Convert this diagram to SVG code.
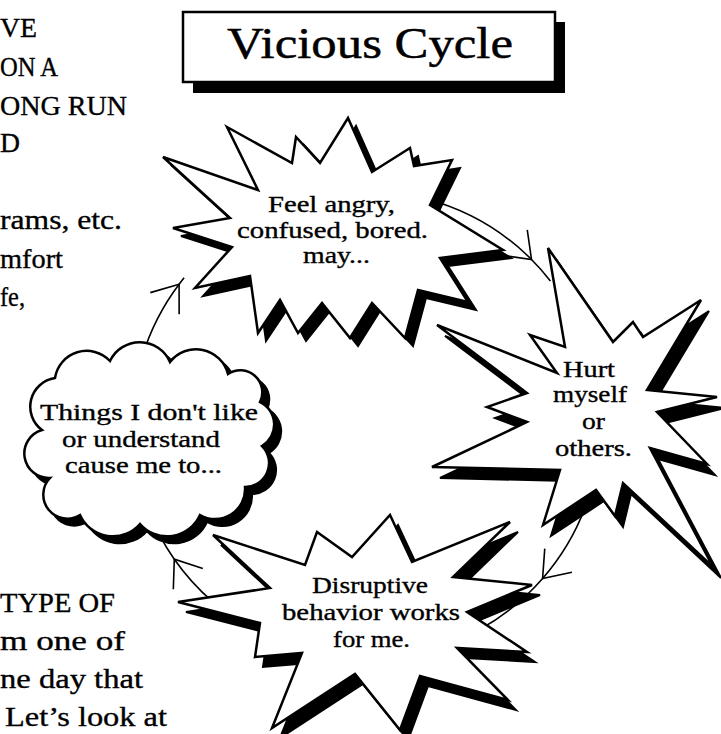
<svg xmlns="http://www.w3.org/2000/svg" width="721" height="734" viewBox="0 0 721 734">
<style>
text{font-family:"Liberation Serif","Times New Roman",serif;fill:#000;stroke:#000;stroke-width:0.35}
.page{font-size:28px}
.lbl{font-size:23px}
.title{font-size:45px;stroke-width:0.5}
.shadow{fill:#000;stroke:#000;stroke-width:2}
.shape{fill:#fff;stroke:#000;stroke-width:2.5;stroke-linejoin:miter}
.conn{fill:none;stroke:#000;stroke-width:1.6}
</style>
<defs>
<marker id="arr" markerUnits="userSpaceOnUse" markerWidth="60" markerHeight="60" viewBox="-30 -30 60 60" refX="0" refY="0" orient="auto" overflow="visible">
<path d="M-24,-18 L0,0 L-24,18" fill="none" stroke="#000" stroke-width="1.6"/>
</marker>
</defs>
<rect width="721" height="734" fill="#fff"/>

<g id="page-text" class="page">
<text x="0" y="37" textLength="37" lengthAdjust="spacingAndGlyphs">VE</text>
<text x="0" y="76" textLength="58" lengthAdjust="spacingAndGlyphs">ON A</text>
<text x="0" y="115" textLength="127" lengthAdjust="spacingAndGlyphs">ONG RUN</text>
<text x="0" y="152" textLength="20" lengthAdjust="spacingAndGlyphs">D</text>
<text x="0" y="229" textLength="122" lengthAdjust="spacingAndGlyphs">rams, etc.</text>
<text x="0" y="268" textLength="63" lengthAdjust="spacingAndGlyphs">mfort</text>
<text x="0" y="306" textLength="25" lengthAdjust="spacingAndGlyphs">fe,</text>
<text x="0" y="612" textLength="115" lengthAdjust="spacingAndGlyphs">TYPE OF</text>
<text x="0" y="650" textLength="125" lengthAdjust="spacingAndGlyphs">m one of</text>
<text x="0" y="688" textLength="143" lengthAdjust="spacingAndGlyphs">ne day that</text>
<text x="5" y="726" textLength="162" lengthAdjust="spacingAndGlyphs">Let’s look at</text>
</g>

<g id="title">
<rect x="193" y="22" width="372" height="71" fill="#000"/>
<rect x="183" y="12" width="372" height="70" fill="#fff" stroke="#000" stroke-width="2.5"/>
<text class="title" x="227" y="58" textLength="286" lengthAdjust="spacingAndGlyphs">Vicious Cycle</text>
</g>

<g id="connectors">
<path class="conn" marker-mid="url(#arr)" d="M142.2,356.6 A234,234 0 0 1 179.1,284.2 A234,234 0 0 1 184.1,277.7"/>
<path class="conn" marker-mid="url(#arr)" d="M426.6,199 A234,234 0 0 1 531.5,259.5 A234,234 0 0 1 550.4,280.9"/>
<path class="conn" marker-mid="url(#arr)" d="M594.9,473.7 A234,234 0 0 1 542.6,578.5 A234,234 0 0 1 479.4,629.7"/>
<path class="conn" marker-mid="url(#arr)" d="M212.5,601.6 A234,234 0 0 1 174.3,559.2 A234,234 0 0 1 159.4,534.9"/>
</g>

<g id="node-feel">
<polygon class="shadow" transform="translate(8,8)" points="227,127 292,163 296,137 320,163 348,118 372,172 410,148 414,166 452,160 430,205 503,250 440,258 468,302 418,290 405,338 372,303 350,338 322,303 298,333 280,300 258,333 250,276 195,288 232,247 173,228 230,218 163,157 258,190"/>
<polygon class="shape" points="227,127 292,163 296,137 320,163 348,118 372,172 410,148 414,166 452,160 430,205 503,250 440,258 468,302 418,290 405,338 372,303 350,338 322,303 298,333 280,300 258,333 250,276 195,288 232,247 173,228 230,218 163,157 258,190"/>
<text class="lbl" x="268" y="212" textLength="127" lengthAdjust="spacingAndGlyphs">Feel angry,</text>
<text class="lbl" x="237" y="238" textLength="191" lengthAdjust="spacingAndGlyphs">confused, bored.</text>
<text class="lbl" x="303" y="263" textLength="67" lengthAdjust="spacingAndGlyphs">may...</text>
</g>

<g id="node-hurt">
<polygon class="shadow" transform="translate(8,11)" points="548,248 613,342 633,322 643,337 701,300 647,390 717,397 657,412 707,464 650,448 713,567 623,483 615,516 596,490 543,525 560,470 432,467 527,422 487,407 527,393 437,325 557,373 530,335 565,347"/>
<polygon class="shape" points="548,248 613,342 633,322 643,337 701,300 647,390 717,397 657,412 707,464 650,448 713,567 623,483 615,516 596,490 543,525 560,470 432,467 527,422 487,407 527,393 437,325 557,373 530,335 565,347"/>
<text class="lbl" x="563" y="377" textLength="52" lengthAdjust="spacingAndGlyphs">Hurt</text>
<text class="lbl" x="553" y="402" textLength="74" lengthAdjust="spacingAndGlyphs">myself</text>
<text class="lbl" x="582" y="429" textLength="23" lengthAdjust="spacingAndGlyphs">or</text>
<text class="lbl" x="555" y="456" textLength="77" lengthAdjust="spacingAndGlyphs">others.</text>
</g>

<g id="node-disruptive">
<polygon class="shadow" transform="translate(8,10)" points="213,535 305,565 317,532 352,557 390,515 412,562 510,522 453,577 532,585 467,612 527,652 457,648 508,700 420,676 400,730 355,674 272,728 302,653 255,657 260,623 178,602 270,588"/>
<polygon class="shape" points="213,535 305,565 317,532 352,557 390,515 412,562 510,522 453,577 532,585 467,612 527,652 457,648 508,700 420,676 400,730 355,674 272,728 302,653 255,657 260,623 178,602 270,588"/>
<text class="lbl" x="312" y="593" textLength="116" lengthAdjust="spacingAndGlyphs">Disruptive</text>
<text class="lbl" x="282" y="620" textLength="178" lengthAdjust="spacingAndGlyphs">behavior works</text>
<text class="lbl" x="333" y="647" textLength="77" lengthAdjust="spacingAndGlyphs">for me.</text>
</g>

<g id="node-things">
<path class="shadow" transform="translate(7,7)" d="M55,378 A32,32 0 0 1 110,361 A33,33 0 0 1 170,362 A33,33 0 0 1 228,374 A22,22 0 0 1 260,402 A25,25 0 0 1 262,446 A24,24 0 0 1 245,487 A30,30 0 0 1 200,515 A36,36 0 0 1 140,524 A36,36 0 0 1 80,515 A24,24 0 0 1 50,478 A24.5,24.5 0 0 1 42,430 A29,29 0 0 1 55,378 Z"/>
<path class="shape" d="M55,378 A32,32 0 0 1 110,361 A33,33 0 0 1 170,362 A33,33 0 0 1 228,374 A22,22 0 0 1 260,402 A25,25 0 0 1 262,446 A24,24 0 0 1 245,487 A30,30 0 0 1 200,515 A36,36 0 0 1 140,524 A36,36 0 0 1 80,515 A24,24 0 0 1 50,478 A24.5,24.5 0 0 1 42,430 A29,29 0 0 1 55,378 Z"/>
<text class="lbl" x="40" y="420" textLength="218" lengthAdjust="spacingAndGlyphs">Things I don't like</text>
<text class="lbl" x="62" y="447" textLength="158" lengthAdjust="spacingAndGlyphs">or understand</text>
<text class="lbl" x="65" y="473" textLength="157" lengthAdjust="spacingAndGlyphs">cause me to...</text>
</g>
</svg>
